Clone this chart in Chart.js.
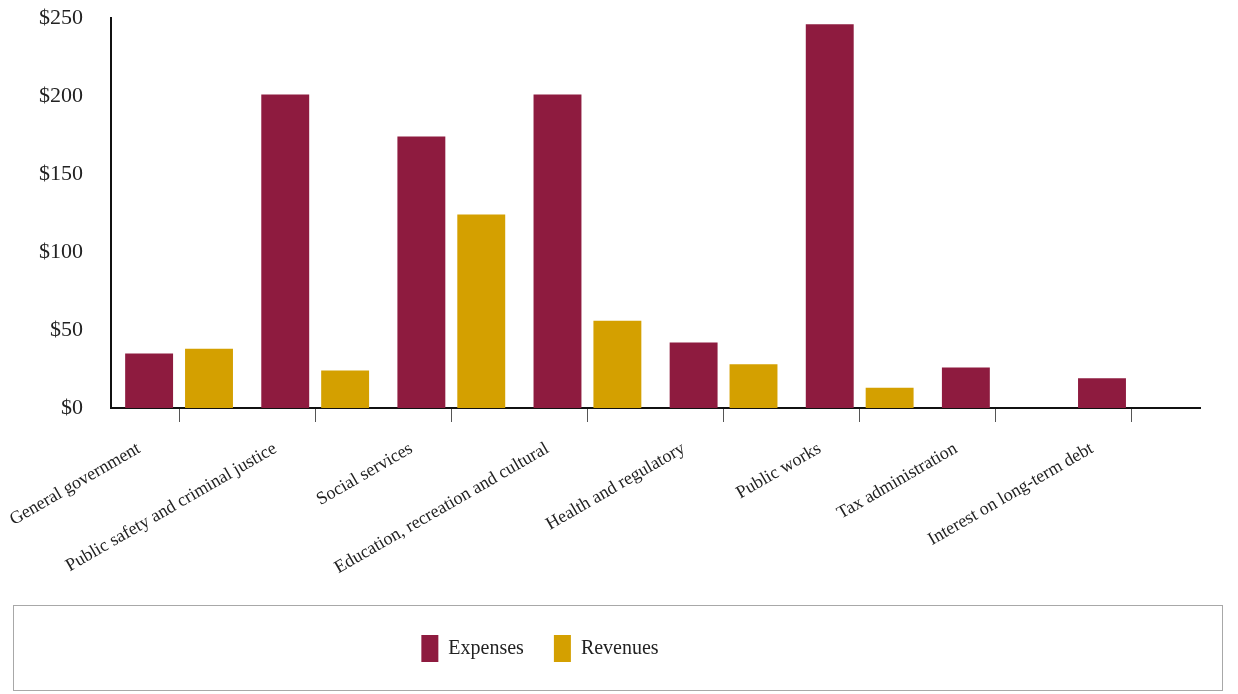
<!DOCTYPE html>
<html>
<head>
<meta charset="utf-8">
<script src="https://cdn.jsdelivr.net/npm/chart.js@4/dist/chart.umd.min.js"></script>
<style>
  html, body { margin: 0; padding: 0; background: #fff; }
  #wrap { width: 1238px; height: 694px; }
</style>
</head>
<body>
<div id="wrap"><canvas id="expenses-chart" width="1238" height="694"></canvas></div>
<script>
// categories and values (millions of dollars)
const categories = [
    'General government',
    'Public safety and criminal justice',
    'Social services',
    'Education, recreation and cultural',
    'Health and regulatory',
    'Public works',
    'Tax administration',
    'Interest on long-term debt'
];
const expenses = [35, 201, 174, 201, 42, 246, 26, 19];
const revenues = [38, 24, 124, 56, 28, 13, 0, 0];
const yTicks = [0, 50, 100, 150, 200, 250];

const serif = "'Liberation Serif', 'DejaVu Serif', serif";

// legend: move items a bit left, draw the frame around it
const legendFrame = {
    id: 'legendFrame',
    afterLayout(chart) {
        chart.legend.left -= 60;
        chart.legend.right -= 60;
    },
    afterDraw(chart) {
        const ctx = chart.ctx;
        const top = chart.legend.top;
        ctx.save();
        ctx.strokeStyle = '#a8a8a8';
        ctx.lineWidth = 1;
        ctx.strokeRect(13.5, top + 0.5, 1209, 85);
        ctx.restore();
    }
};

const ctx = document.getElementById('expenses-chart').getContext('2d');
window.expensesChart = new Chart(ctx, {
    type: 'bar',
    data: {
        labels: categories,
        datasets: [
            {
                label: 'Expenses',
                data: expenses,
                backgroundColor: '#8e1b3f',
                borderWidth: 0,
                categoryPercentage: 0.88,
                barPercentage: 0.8
            },
            {
                label: 'Revenues',
                data: revenues,
                backgroundColor: '#d4a000',
                borderWidth: 0,
                categoryPercentage: 0.88,
                barPercentage: 0.8
            }
        ]
    },
    options: {
        responsive: false,
        animation: false,
        layout: {
            padding: { top: 18, right: 38, bottom: 22, left: 0 }
        },
        scales: {
            x: {
                offset: true,
                grid: {
                    offset: false,
                    drawOnChartArea: false,
                    drawTicks: true,
                    tickLength: 14,
                    color: '#555'
                },
                border: { color: '#111', width: 2 },
                ticks: {
                    minRotation: 30,
                    maxRotation: 30,
                    autoSkip: false,
                    padding: 16,
                    labelOffset: -40,
                    color: '#222',
                    font: { family: serif, size: 18 }
                },
                afterFit(scale) {
                    scale.height = 197;
                    scale.paddingLeft = 0;
                }
            },
            y: {
                min: 0,
                max: 250,
                grid: { display: false, drawTicks: false },
                border: { color: '#111', width: 2 },
                afterBuildTicks(scale) {
                    scale.ticks = yTicks.map(v => ({ value: v }));
                },
                ticks: {
                    padding: 28,
                    color: '#222',
                    font: { family: serif, size: 22 },
                    callback: function (value) {
                        return '$' + value;
                    }
                },
                afterFit(scale) {
                    scale.width = 111;
                    scale.paddingTop = 0;
                    scale.paddingBottom = 0;
                }
            }
        },
        plugins: {
            legend: {
                position: 'bottom',
                labels: {
                    boxWidth: 17,
                    boxHeight: 27,
                    padding: 30,
                    color: '#222',
                    font: { family: serif, size: 20 }
                }
            },
            tooltip: { enabled: false }
        }
    },
    plugins: [legendFrame]
});
</script>
</body>
</html>
